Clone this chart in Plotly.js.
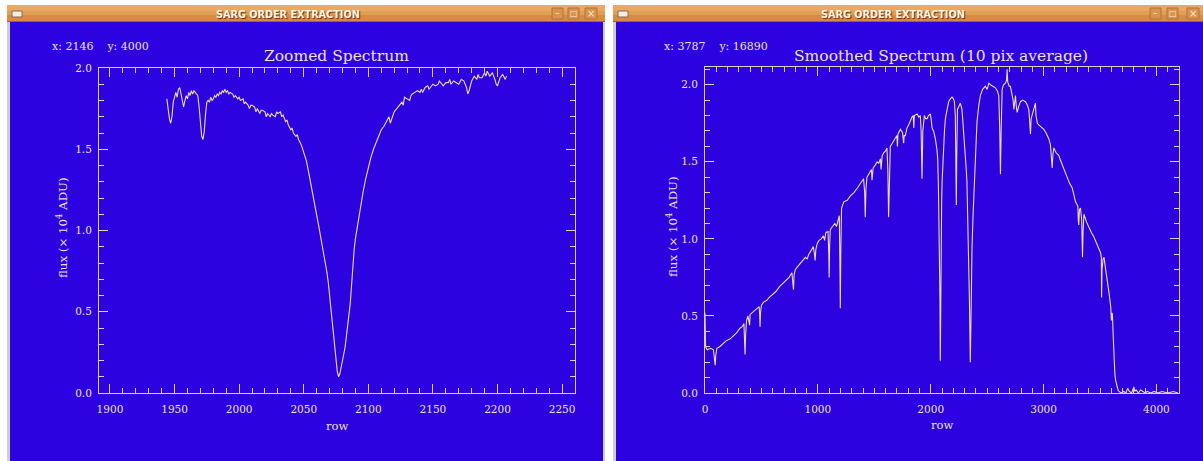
<!DOCTYPE html>
<html>
<head>
<meta charset="utf-8">
<script src="https://cdn.plot.ly/plotly-3.0.1.min.js"></script>
<style>html,body{margin:0;padding:0;background:#fff;}#chart{width:1203px;height:461px;}</style>
</head>
<body>
<div id="chart"></div>
<script>
// ---- Zoomed spectrum (left window) ----
const zoomRow = [1944,1945,1946,1947,1948,1949,1950,1951,1952,1953,1954,1955,1956,1957,1958,1959,1960,1961,1962,1963,1964,1965,1966,1967,1968,1969,1970,1971,1972,1973,1974,1975,1976,1977,1978,1979,1980,1981,1982,1983,1984,1985,1986,1987,1988,1989,1990,1991,1992,1993,1995,1996,1997,1999,2000,2001,2003,2004,2005,2007,2008,2009,2010,2012,2013,2014,2016,2017,2018,2020,2021,2022,2024,2025,2026,2028,2029,2030,2032,2033,2034,2036,2037,2038,2040,2041,2042,2044,2045,2046,2048,2050,2052,2054,2056,2058,2060,2062,2064,2066,2068,2069,2070,2071,2072,2073,2074,2075,2076,2077,2078,2079,2080,2081,2082,2083,2084,2085,2086,2087,2088,2089,2090,2092,2094,2096,2098,2100,2102,2104,2106,2108,2110,2112,2114,2116,2117,2118,2120,2122,2124,2126,2127,2128,2130,2132,2133,2134,2136,2138,2140,2141,2142,2144,2146,2147,2148,2150,2152,2154,2155,2156,2158,2160,2162,2163,2164,2166,2168,2170,2172,2174,2176,2177,2178,2180,2182,2184,2185,2186,2188,2190,2191,2192,2194,2196,2198,2199,2200,2202,2204,2206,2207];
const zoomFlux = [1.81,1.74,1.69,1.66,1.70,1.79,1.83,1.85,1.82,1.87,1.88,1.84,1.80,1.76,1.80,1.83,1.81,1.85,1.83,1.86,1.84,1.86,1.85,1.84,1.83,1.76,1.65,1.58,1.56,1.61,1.72,1.79,1.80,1.79,1.82,1.80,1.81,1.83,1.82,1.84,1.83,1.85,1.84,1.86,1.85,1.87,1.85,1.86,1.84,1.85,1.84,1.82,1.83,1.81,1.82,1.80,1.81,1.78,1.79,1.77,1.75,1.77,1.77,1.76,1.73,1.75,1.72,1.74,1.74,1.73,1.70,1.72,1.70,1.72,1.71,1.70,1.73,1.72,1.73,1.70,1.71,1.67,1.68,1.65,1.62,1.63,1.60,1.58,1.59,1.56,1.53,1.48,1.43,1.35,1.27,1.19,1.10,1.01,0.92,0.84,0.74,0.68,0.60,0.52,0.43,0.36,0.27,0.19,0.13,0.10,0.12,0.16,0.21,0.24,0.28,0.34,0.41,0.47,0.55,0.66,0.78,0.88,0.95,1.05,1.15,1.24,1.32,1.39,1.45,1.50,1.54,1.58,1.62,1.64,1.67,1.70,1.66,1.68,1.73,1.75,1.77,1.79,1.77,1.82,1.81,1.80,1.83,1.84,1.85,1.86,1.85,1.87,1.85,1.88,1.89,1.87,1.88,1.90,1.89,1.90,1.92,1.91,1.89,1.91,1.91,1.93,1.90,1.92,1.91,1.90,1.93,1.92,1.88,1.84,1.86,1.92,1.95,1.93,1.96,1.94,1.94,1.97,1.95,1.98,1.95,1.97,1.93,1.90,1.89,1.94,1.96,1.93,1.95];

// ---- Smoothed spectrum (right window) ----
const smoothRow = [0,5,20,50,75,85,90,95,105,130,160,190,220,250,280,310,330,345,350,355,360,368,380,395,400,415,440,460,480,485,488,492,500,520,545,570,600,630,660,690,720,745,770,778,784,790,800,820,845,870,890,905,920,945,960,970,976,982,995,1010,1030,1050,1060,1070,1090,1097,1100,1104,1110,1130,1150,1165,1180,1190,1196,1199,1203,1210,1230,1260,1290,1320,1350,1380,1405,1415,1420,1426,1435,1460,1475,1480,1485,1490,1510,1525,1540,1555,1560,1565,1570,1585,1600,1612,1620,1627,1634,1642,1660,1686,1700,1705,1710,1731,1750,1760,1765,1775,1790,1805,1820,1834,1845,1850,1855,1879,1895,1908,1915,1923,1930,1944,1955,1968,1980,1997,2005,2012,2025,2041,2055,2062,2068,2072,2078,2082,2085,2088,2092,2097,2101,2108,2115,2122,2130,2145,2159,2175,2189,2200,2210,2218,2225,2227,2230,2237,2250,2262,2277,2290,2297,2305,2315,2321,2330,2335,2343,2351,2358,2366,2375,2387,2398,2410,2425,2440,2460,2484,2500,2515,2529,2550,2573,2590,2603,2612,2618,2624,2633,2645,2662,2672,2677,2682,2695,2706,2720,2730,2737,2745,2751,2758,2766,2780,2795,2815,2839,2855,2869,2877,2884,2890,2898,2912,2928,2933,2937,2945,2957,2975,3002,3020,3046,3061,3068,3076,3083,3091,3110,3135,3150,3165,3185,3209,3230,3254,3270,3283,3298,3304,3308,3312,3318,3327,3338,3342,3345,3350,3358,3380,3402,3425,3447,3470,3491,3505,3512,3514,3518,3527,3536,3550,3566,3580,3595,3601,3606,3610,3618,3625,3632,3639,3650,3660,3668,3690,3710,3730,3745,3760,3780,3790,3800,3808,3820,3840,3860,3880,3900,3920,3950,3980,4010,4050,4100,4150,4190];
const smoothFlux = [0.52,0.30,0.28,0.29,0.28,0.22,0.18,0.24,0.29,0.30,0.32,0.34,0.35,0.37,0.39,0.42,0.43,0.45,0.35,0.25,0.38,0.47,0.50,0.44,0.51,0.52,0.54,0.55,0.56,0.50,0.43,0.52,0.57,0.59,0.60,0.62,0.64,0.66,0.69,0.71,0.73,0.75,0.78,0.72,0.67,0.77,0.80,0.82,0.84,0.86,0.88,0.87,0.90,0.93,0.95,0.90,0.86,0.93,0.97,0.99,1.00,1.02,0.99,1.04,1.05,0.90,0.75,0.95,1.06,1.08,1.10,1.08,1.12,1.15,0.80,0.55,0.90,1.20,1.24,1.25,1.28,1.30,1.33,1.36,1.39,1.30,1.14,1.32,1.40,1.43,1.45,1.38,1.44,1.46,1.48,1.50,1.49,1.52,1.45,1.51,1.54,1.56,1.57,1.59,1.45,1.14,1.42,1.60,1.62,1.65,1.67,1.60,1.68,1.71,1.69,1.62,1.67,1.67,1.72,1.74,1.77,1.79,1.80,1.72,1.80,1.81,1.79,1.80,1.70,1.39,1.70,1.80,1.78,1.78,1.80,1.81,1.77,1.72,1.70,1.65,1.58,1.52,1.35,1.15,0.95,0.60,0.21,0.60,0.95,1.25,1.37,1.50,1.59,1.70,1.78,1.85,1.89,1.91,1.92,1.91,1.89,1.80,1.50,1.22,1.50,1.84,1.86,1.88,1.84,1.72,1.65,1.60,1.45,1.37,1.10,0.94,0.60,0.20,0.60,0.94,1.15,1.37,1.58,1.76,1.86,1.93,1.97,1.99,1.97,2.01,2.00,1.99,1.98,1.96,1.93,1.70,1.42,1.70,1.97,2.00,2.01,2.03,2.10,2.02,1.99,1.99,1.93,1.90,1.84,1.92,1.93,1.86,1.82,1.86,1.89,1.90,1.89,1.87,1.84,1.76,1.68,1.78,1.80,1.84,1.88,1.80,1.78,1.75,1.74,1.73,1.71,1.69,1.65,1.61,1.52,1.46,1.55,1.59,1.56,1.54,1.51,1.48,1.44,1.39,1.36,1.33,1.28,1.24,1.22,1.21,1.12,1.09,1.19,1.20,1.12,0.95,0.88,1.05,1.16,1.11,1.07,1.04,1.01,0.97,0.94,0.91,0.88,0.62,0.80,0.87,0.88,0.80,0.73,0.65,0.56,0.47,0.52,0.51,0.35,0.19,0.12,0.08,0.04,0.02,0.01,0.00,0.01,0.00,0.03,0.01,0.00,0.03,0.04,0.01,0.02,0.00,0.02,0.01,0.00,0.01,0.00,0.01,0.00,0.01,0.00,0.01,0.00];

const leftTickVals = [1900,1950,2000,2050,2100,2150,2200,2250];
const rightTickVals = [0,1000,2000,3000,4000];
const fluxTickVals = [0.0,0.5,1.0,1.5,2.0];

// ---- styling ----
const W = 1203, H = 461;
const BLUE = '#2d02e0';
const AXC = '#dcd0ba';
const TXT = '#ece0ca';
const LINE = '#ecdca2';
const SERIF = 'DejaVu Serif, serif';
const px = v => v / W;
const py = v => 1 - v / H;

function axX(dom, range, tickvals, minorDtick) {
  return {
    domain: [px(dom[0]), px(dom[1])], range: range, tickmode: 'array', tickvals: tickvals,
    ticktext: tickvals.map(String),
    ticks: 'inside', ticklen: 9, tickwidth: 1, tickcolor: AXC,
    minor: {dtick: minorDtick, ticks: 'inside', ticklen: 5, tickwidth: 1, tickcolor: AXC, showgrid: false},
    showline: true, linecolor: AXC, linewidth: 1, mirror: 'ticks',
    showgrid: false, zeroline: false, fixedrange: true,
    tickfont: {family: SERIF, size: 10.5, color: TXT}, ticklabelstandoff: 6
  };
}
function axY(dom, range, anchor) {
  return {
    domain: [py(dom[1]), py(dom[0])], range: range, anchor: anchor,
    tickmode: 'array', tickvals: fluxTickVals, ticktext: fluxTickVals.map(v => v.toFixed(1)),
    ticks: 'inside', ticklen: 9, tickwidth: 1, tickcolor: AXC,
    minor: {dtick: 0.1, tick0: 0, ticks: 'inside', ticklen: 5, tickwidth: 1, tickcolor: AXC, showgrid: false},
    showline: true, linecolor: AXC, linewidth: 1, mirror: 'ticks',
    showgrid: false, zeroline: false, fixedrange: true,
    tickfont: {family: SERIF, size: 10.5, color: TXT}, ticklabelstandoff: 4
  };
}

function rect(x0, y0, x1, y1, fill, line) {
  return {type: 'rect', xref: 'paper', yref: 'paper', x0: px(x0), x1: px(x1), y0: py(y1), y1: py(y0),
    fillcolor: fill, line: {width: line ? 1 : 0, color: line || fill}, layer: 'below'};
}
const shapes = [];
function windowFrame(x0, x1, btns) {
  shapes.push(rect(x0, 5, x1, 461, '#cfcdc6'));
  shapes.push(rect(x0 + 3, 22, x1 - 2, 461, BLUE));
  shapes.push(rect(x0, 5, x1, 22, '#d68d42'));
  shapes.push(rect(x0, 5, x1, 11, '#e8aa62'));
  shapes.push(rect(x0, 11, x1, 15, '#dfa055'));
  shapes.push(rect(x0, 21, x1, 22, '#a4622a'));
  shapes.push(rect(x0 + 5, 11, x0 + 15, 17, '#f4efe6', '#8a6a4a'));
  btns.forEach(b => shapes.push(rect(b[0], 8, b[1], 19, '#d8934c', '#b47434')));
}
windowFrame(7, 605, [[552, 563], [568, 579], [585, 597]]);
windowFrame(613, 1205, [[1150, 1161], [1167, 1178], [1187, 1199]]);

function ann(text, x, y, size, opts) {
  return Object.assign({text: text, xref: 'paper', yref: 'paper', x: px(x), y: py(y),
    xanchor: 'center', yanchor: 'middle', showarrow: false,
    font: {family: SERIF, size: size, color: TXT}}, opts || {});
}
const TB = {family: 'DejaVu Sans, sans-serif', size: 9.7, color: '#fff6e6', weight: 'bold', shadow: '1px 1px 1px #5a3010'};
const BT = s => ({family: 'DejaVu Sans', size: s, color: '#fbe8d0'});
const annotations = [
  ann('SARG ORDER EXTRACTION', 288, 14, 9.7, {font: TB}),
  ann('SARG ORDER EXTRACTION', 893, 14, 9.7, {font: TB}),
  ann('\u2013', 557.5, 13, 9, {font: BT(9)}),
  ann('\u25a1', 573.5, 13.5, 8, {font: BT(8)}),
  ann('\u00d7', 591, 13.5, 10, {font: BT(10)}),
  ann('\u2013', 1155.5, 13, 9, {font: BT(9)}),
  ann('\u25a1', 1172.5, 13.5, 8, {font: BT(8)}),
  ann('\u00d7', 1193, 13.5, 10, {font: BT(10)}),
  ann('x: 2146\u00a0\u00a0\u00a0\u00a0y: 4000', 50, 46, 11, {xanchor: 'left'}),
  ann('x: 3787\u00a0\u00a0\u00a0\u00a0y: 16890', 662, 46, 11, {xanchor: 'left'}),
  ann('Zoomed Spectrum', 336, 56, 15.5),
  ann('Smoothed Spectrum (10 pix average)', 941, 56, 15.5),
  ann('row', 337, 426, 11.5),
  ann('row', 942, 425, 11.5),
  ann('flux (\u00d7 10<sup>4</sup> ADU)', 62, 228, 11.8, {textangle: -90}),
  ann('flux (\u00d7 10<sup>4</sup> ADU)', 672, 227, 11.8, {textangle: -90})
];

const data = [
  {x: zoomRow, y: zoomFlux, type: 'scatter', mode: 'lines', xaxis: 'x', yaxis: 'y',
   line: {color: LINE, width: 1.1}, hoverinfo: 'skip'},
  {x: smoothRow, y: smoothFlux, type: 'scatter', mode: 'lines', xaxis: 'x2', yaxis: 'y2',
   line: {color: LINE, width: 1.1}, hoverinfo: 'skip'}
];

const layout = {
  width: W, height: H, margin: {l: 0, r: 0, t: 0, b: 0, pad: 0},
  paper_bgcolor: '#ffffff', plot_bgcolor: 'rgba(0,0,0,0)', showlegend: false,
  xaxis: Object.assign(axX([99, 575], [1891.5, 2260], leftTickVals, 10), {anchor: 'y'}),
  yaxis: axY([68, 393], [0, 2.0], 'x'),
  xaxis2: Object.assign(axX([705, 1179], [0, 4200], rightTickVals, 100), {anchor: 'y2'}),
  yaxis2: axY([67, 393], [0, 2.115], 'x2'),
  shapes: shapes, annotations: annotations
};

Plotly.newPlot('chart', data, layout, {staticPlot: true, displayModeBar: false});
</script>
</body>
</html>
